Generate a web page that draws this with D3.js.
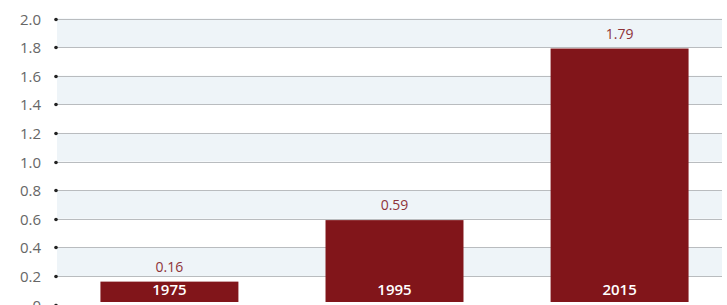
<!DOCTYPE html>
<html>
<head>
<meta charset="utf-8">
<script src="https://cdn.jsdelivr.net/npm/d3@7"></script>
<style>
    body { margin: 0; background: #fff; }
    svg { display: block; font-family: "Open Sans", Lato, sans-serif; }
</style>
</head>
<body>
<div id="chart"></div>
<script>
    "use strict";

    const years = ["1975", "1995", "2015"];
    const values = [0.16, 0.59, 1.79];
    const yTicks = [0, 0.2, 0.4, 0.6, 0.8, 1.0, 1.2, 1.4, 1.6, 1.8, 2.0];

    const width = 727, height = 305;
    const gridLeft = 57, gridRight = 722;

    const svg = d3.select("#chart").append("svg")
        .attr("width", width)
        .attr("height", height);

    const y = d3.scaleLinear().domain([0, 2]).range([304.5, 18.5]);
    const x = d3.scaleBand()
        .domain(years)
        .range([57, 732])
        .paddingInner(0.387)
        .paddingOuter(0.193);

    // alternating bands, top one shaded
    for (let i = 0; i < yTicks.length - 1; i++) {
        if ((yTicks.length - 2 - i) % 2 === 0) {
            svg.append("rect")
                .attr("x", gridLeft)
                .attr("y", y(yTicks[i + 1]))
                .attr("width", gridRight - gridLeft)
                .attr("height", y(yTicks[i]) - y(yTicks[i + 1]))
                .attr("fill", "#eef4f8");
        }
    }

    const ticks = svg.append("g").selectAll("g")
        .data(yTicks)
        .enter().append("g")
        .attr("transform", d => `translate(0,${Math.round(y(d)) + 0.5})`);

    ticks.append("line")
        .attr("x1", gridLeft)
        .attr("x2", gridRight)
        .attr("stroke", "#b9bcbf")
        .attr("stroke-width", 1);

    ticks.append("circle")
        .attr("cx", 56)
        .attr("r", 1.8)
        .attr("fill", "#222");

    ticks.append("text")
        .attr("x", 41)
        .attr("dy", "0.34em")
        .attr("text-anchor", "end")
        .attr("font-size", "15px")
        .attr("fill", "#666")
        .text(d => d === 0 ? "0" : d.toFixed(1));

    const bars = svg.append("g").selectAll("g")
        .data(years.map((yr, i) => ({ year: yr, value: values[i] })))
        .enter().append("g");

    bars.append("rect")
        .attr("x", d => x(d.year))
        .attr("y", d => y(d.value))
        .attr("width", x.bandwidth())
        .attr("height", d => 302 - y(d.value))
        .attr("fill", "#81151a");

    bars.append("text")
        .attr("x", d => x(d.year) + x.bandwidth() / 2)
        .attr("y", d => y(d.value) - 10)
        .attr("text-anchor", "middle")
        .attr("font-size", "14px")
        .attr("fill", "#8e3338")
        .text(d => d.value.toFixed(2));

    bars.append("text")
        .attr("x", d => x(d.year) + x.bandwidth() / 2)
        .attr("y", 295)
        .attr("text-anchor", "middle")
        .attr("font-size", "15px")
        .attr("font-weight", "600")
        .attr("fill", "#fff")
        .text(d => d.year);
</script>
</body>
</html>
